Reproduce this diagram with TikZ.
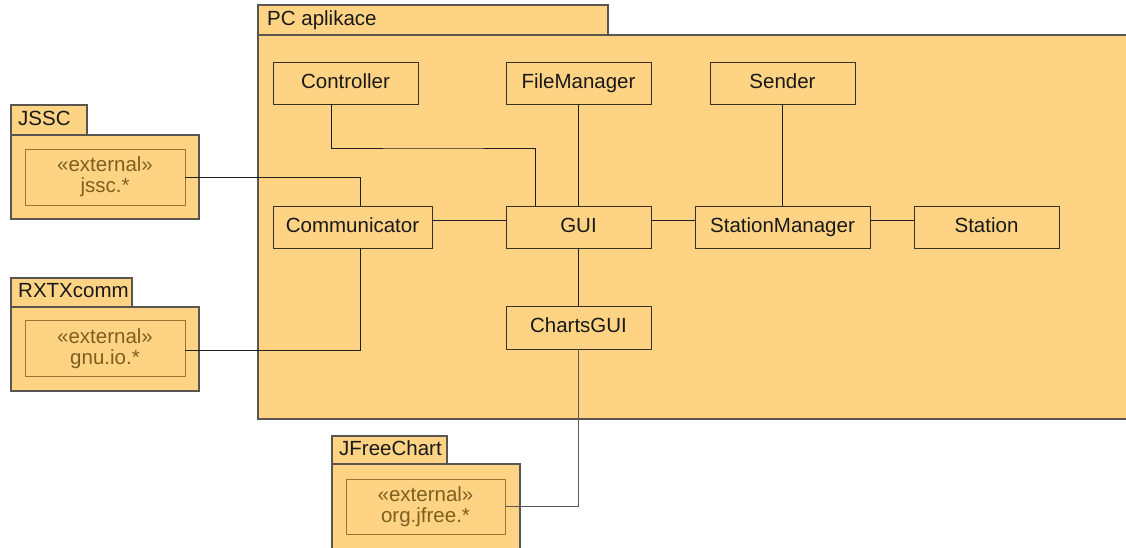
\documentclass[tikz,border=0pt]{standalone}
\usepackage{fontspec}
\setmainfont{Liberation Sans}
\usetikzlibrary{positioning}
\definecolor{pkgfill}{HTML}{FFD384}
\definecolor{pkgline}{HTML}{5A5550}
\definecolor{clsline}{HTML}{3A3122}
\definecolor{extline}{HTML}{9A7430}
\definecolor{exttext}{HTML}{7E5F1E}
\definecolor{wire}{HTML}{1E1E1E}
\tikzset{
  pkgbody/.style={draw=pkgline, fill=pkgfill, line width=1.2pt},
  pkgtab/.style={draw=pkgline, fill=pkgfill, line width=1.2pt},
  tablabel/.style={anchor=west, inner sep=0pt, text=black!90,
    text height=15pt, text depth=5pt,
    font=\fontsize{20.5}{24}\selectfont},
  cls/.style={draw=clsline, fill=pkgfill, line width=0.9pt,
    minimum width=145pt, minimum height=42pt, inner sep=0pt,
    text height=15pt, text depth=5pt,
    text=black!90, font=\fontsize{20.5}{24}\selectfont},
  ext/.style={draw=extline, fill=pkgfill, line width=0.9pt,
    minimum width=160pt, minimum height=56pt, inner sep=0pt, align=center,
    text=exttext, font=\fontsize{20.5}{21}\selectfont},
  wireline/.style={draw=wire, line width=0.9pt}
}
\begin{document}
\begin{tikzpicture}[x=1pt, y=-1pt]
\useasboundingbox (0,0) rectangle (1126,547);

% package "PC aplikace"
\draw[pkgtab] (258,5) rectangle (608,35);
\draw[pkgbody] (258,35) rectangle (1140,419);
\node[tablabel] (pclab) at (267,20) {PC aplikace};

% package JSSC
\draw[pkgtab] (11,105) rectangle (87,135);
\draw[pkgbody] (11,135) rectangle (199,219);
\node[tablabel] (jsscl) at (18,120) {JSSC};
\node[ext] (jssc) at (105,177) {«external»\\jssc.*};

% package RXTXcomm
\draw[pkgtab] (11,278) rectangle (132,307);
\draw[pkgbody] (11,307) rectangle (199,391);
\node[tablabel] (rxtxl) at (18,292.5) {RXTXcomm};
\node[ext] (gnu) at (105,348.5) {«external»\\gnu.io.*};

% package JFreeChart
\draw[pkgtab] (332,436) rectangle (447,464);
\draw[pkgbody] (332,464) rectangle (520,560);
\node[tablabel] (jfl) at (339,450) {JFreeChart};
\node[ext, minimum width=159pt, minimum height=55pt] (jfree) at (425.5,506.5) {«external»\\org.jfree.*};

% classes
\node[cls] (ctrl) at (345.5,83) {Controller};
\node[cls] (fm) at (578.5,83.5) {FileManager};
\node[cls] (snd) at (782.5,83.5) {Sender};
\node[cls, minimum width=159pt] (comm) at (352.5,227) {Communicator};
\node[cls] (gui) at (578.5,227) {GUI};
\node[cls, minimum width=175pt] (sm) at (782.5,227) {StationManager};
\node[cls] (st) at (986.5,227) {Station};
\node[cls, minimum height=43pt] (charts) at (578.5,327.5) {ChartsGUI};

% connectors
\coordinate (cbend) at (433,148);
\draw[wireline] ([xshift=-14.5pt]ctrl.south) |- (cbend) -| ([xshift=-43.5pt]gui.north);
\draw[wireline] (fm.south) -- (gui.north);
\draw[wireline] (snd.south) -- (sm.north);
\draw[wireline] ([yshift=7pt]comm.east) -- ([yshift=7pt]gui.west);
\draw[wireline] ([yshift=7pt]gui.east) -- ([yshift=7pt]sm.west);
\draw[wireline] ([yshift=7pt]sm.east) -- ([yshift=7pt]st.west);
\draw[wireline] (gui.south) -- (charts.north);
\draw[wireline] (jssc.east) -| ([xshift=7.5pt]comm.north);
\draw[wireline] ([yshift=-1.5pt]gnu.east) -| ([xshift=7.5pt]comm.south);
\draw[wireline, draw=black!65] (charts.south) |- (jfree.east);
\end{tikzpicture}
\end{document}
